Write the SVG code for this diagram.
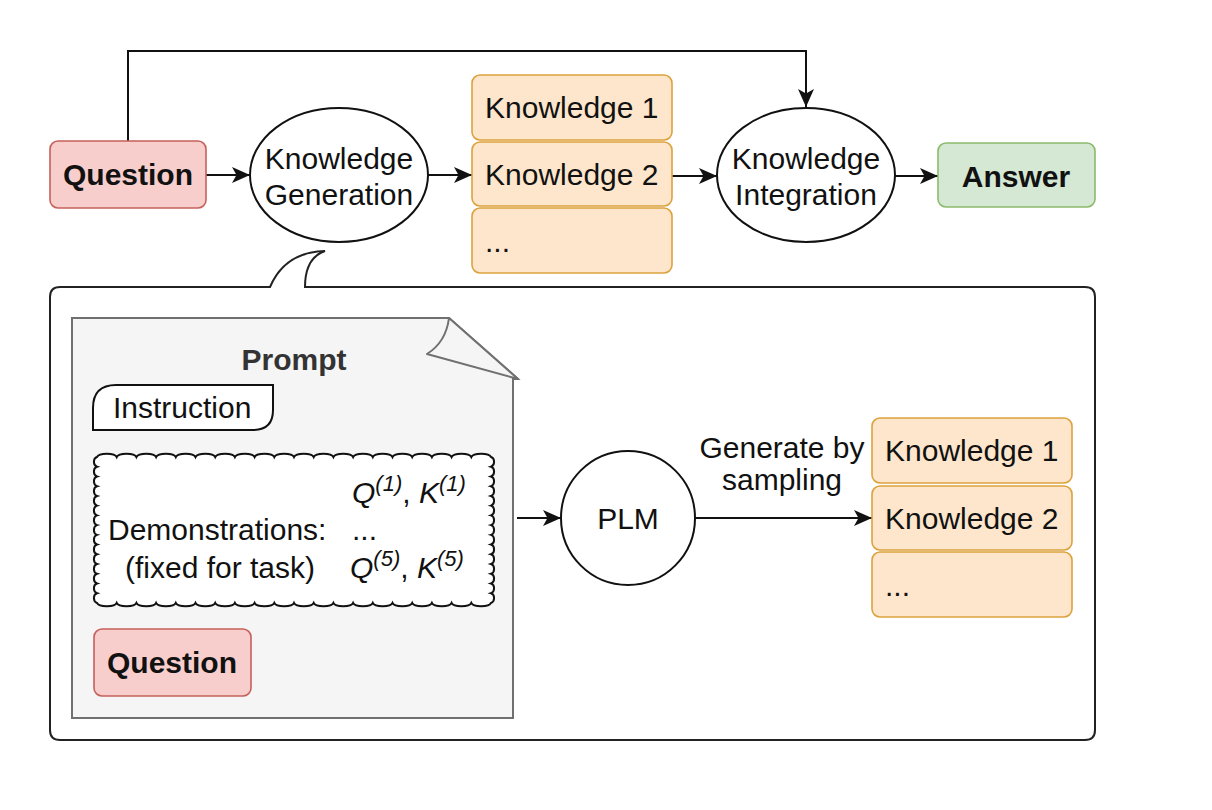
<svg xmlns="http://www.w3.org/2000/svg" width="1212" height="810" viewBox="0 0 1212 810">
<style>
text{font-family:"Liberation Sans",Arial,Helvetica,sans-serif;font-size:30px;fill:#111}
.b{font-weight:bold}
.c{text-anchor:middle}
.i{font-style:italic}
.line{fill:none;stroke:#111;stroke-width:2}
.ell{fill:#fff;stroke:#111;stroke-width:2}
.q{fill:#f8cecc;stroke:#c5605b;stroke-width:1.6}
.k{fill:#fde6cb;stroke:#dca23e;stroke-width:1.6}
.a{fill:#d5e8d4;stroke:#8abb6c;stroke-width:1.6}
</style>
<defs>
<marker id="arr" markerUnits="userSpaceOnUse" markerWidth="20" markerHeight="18" refX="18" refY="8" orient="auto">
<path d="M0,0 L18,8 L0,16 L4.5,8 Z" fill="#111"/>
</marker>
</defs>
<rect width="1212" height="810" fill="#fff"/>

<g id="callout">
<path d="M60,287 H270 Q285,252 325,251 Q305,258 305,287 H1085 Q1095,287 1095,297 V730 Q1095,740 1085,740 H60 Q50,740 50,730 V297 Q50,287 60,287 Z" fill="#fff" stroke="#222" stroke-width="2"/>
</g>

<g id="connectors">
<path class="line" d="M128,141 V51 H806 V107" marker-end="url(#arr)"/>
<path class="line" d="M206,175 H250" marker-end="url(#arr)"/>
<path class="line" d="M428,175 H472" marker-end="url(#arr)"/>
<path class="line" d="M672,176 H717" marker-end="url(#arr)"/>
<path class="line" d="M895,176 H938" marker-end="url(#arr)"/>
<path class="line" d="M517,518 H561" marker-end="url(#arr)"/>
<path class="line" d="M695,518 H872" marker-end="url(#arr)"/>
</g>

<g id="question">
<rect class="q" x="50" y="141" width="156" height="67" rx="8"/>
<text class="b c" x="128" y="185">Question</text>
</g>

<g id="knowledge-generation">
<ellipse class="ell" cx="339" cy="175" rx="89" ry="67"/>
<text class="c" x="339" y="169">Knowledge</text>
<text class="c" x="339" y="205">Generation</text>
</g>

<g id="knowledge-stack-top">
<rect class="k" x="472" y="75" width="200" height="65" rx="8"/>
<text x="485" y="118">Knowledge 1</text>
<rect class="k" x="472" y="142" width="200" height="64" rx="8"/>
<text x="485" y="185">Knowledge 2</text>
<rect class="k" x="472" y="208" width="200" height="65" rx="8"/>
<text x="485" y="252">...</text>
</g>

<g id="knowledge-integration">
<ellipse class="ell" cx="806" cy="175" rx="89" ry="67"/>
<text class="c" x="806" y="169">Knowledge</text>
<text class="c" x="806" y="205">Integration</text>
</g>

<g id="answer">
<rect class="a" x="938" y="143" width="157" height="64" rx="8"/>
<text class="b c" x="1016" y="187">Answer</text>
</g>

<g id="prompt">
<path d="M72,318 H449 L518,379 L513,379 V718 H72 Z" fill="#f5f5f5" stroke="#707070" stroke-width="2"/>
<path d="M449,318 Q446,342 427,354 L518,379 Z" fill="#f5f5f5" stroke="#707070" stroke-width="2" stroke-linejoin="round"/>
<text class="b c" x="294" y="370" style="fill:#333">Prompt</text>
</g>

<g id="instruction">
<path d="M93,430 V408 Q93,385 116,385 H273 V410 Q273,430 253,430 Z" fill="#fff" stroke="#111" stroke-width="2"/>
<text x="113" y="418">Instruction</text>
</g>

<g id="demonstrations">
<path d="M97,457 a10,4 0 0 1 19.7,0 a10,4 0 0 1 19.7,0 a10,4 0 0 1 19.7,0 a10,4 0 0 1 19.7,0 a10,4 0 0 1 19.7,0 a10,4 0 0 1 19.7,0 a10,4 0 0 1 19.7,0 a10,4 0 0 1 19.7,0 a10,4 0 0 1 19.7,0 a10,4 0 0 1 19.7,0 a10,4 0 0 1 19.7,0 a10,4 0 0 1 19.7,0 a10,4 0 0 1 19.7,0 a10,4 0 0 1 19.7,0 a10,4 0 0 1 19.7,0 a10,4 0 0 1 19.7,0 a10,4 0 0 1 19.7,0 a10,4 0 0 1 19.7,0 a10,4 0 0 1 19.7,0 a10,4 0 0 1 19.7,0
a4,5 0 0 1 0,9.73 a4,5 0 0 1 0,9.73 a4,5 0 0 1 0,9.73 a4,5 0 0 1 0,9.73 a4,5 0 0 1 0,9.73 a4,5 0 0 1 0,9.73 a4,5 0 0 1 0,9.73 a4,5 0 0 1 0,9.73 a4,5 0 0 1 0,9.73 a4,5 0 0 1 0,9.73 a4,5 0 0 1 0,9.73 a4,5 0 0 1 0,9.73 a4,5 0 0 1 0,9.73 a4,5 0 0 1 0,9.73 a4,5 0 0 1 0,9.73
a10,4 0 0 1 -19.7,0 a10,4 0 0 1 -19.7,0 a10,4 0 0 1 -19.7,0 a10,4 0 0 1 -19.7,0 a10,4 0 0 1 -19.7,0 a10,4 0 0 1 -19.7,0 a10,4 0 0 1 -19.7,0 a10,4 0 0 1 -19.7,0 a10,4 0 0 1 -19.7,0 a10,4 0 0 1 -19.7,0 a10,4 0 0 1 -19.7,0 a10,4 0 0 1 -19.7,0 a10,4 0 0 1 -19.7,0 a10,4 0 0 1 -19.7,0 a10,4 0 0 1 -19.7,0 a10,4 0 0 1 -19.7,0 a10,4 0 0 1 -19.7,0 a10,4 0 0 1 -19.7,0 a10,4 0 0 1 -19.7,0 a10,4 0 0 1 -19.7,0
a4,5 0 0 1 0,-9.73 a4,5 0 0 1 0,-9.73 a4,5 0 0 1 0,-9.73 a4,5 0 0 1 0,-9.73 a4,5 0 0 1 0,-9.73 a4,5 0 0 1 0,-9.73 a4,5 0 0 1 0,-9.73 a4,5 0 0 1 0,-9.73 a4,5 0 0 1 0,-9.73 a4,5 0 0 1 0,-9.73 a4,5 0 0 1 0,-9.73 a4,5 0 0 1 0,-9.73 a4,5 0 0 1 0,-9.73 a4,5 0 0 1 0,-9.73 a4,5 0 0 1 0,-9.73 Z" fill="#fff" stroke="#111" stroke-width="2"/>
<text x="352" y="503"><tspan class="i">Q</tspan><tspan class="i" dy="-12" style="font-size:22px">(1)</tspan><tspan dy="12">, </tspan><tspan class="i">K</tspan><tspan class="i" dy="-12" style="font-size:22px">(1)</tspan></text>
<text x="108" y="540">Demonstrations:</text>
<text x="352" y="540">...</text>
<text x="125" y="578">(fixed for task)</text>
<text x="350" y="578"><tspan class="i">Q</tspan><tspan class="i" dy="-12" style="font-size:22px">(5)</tspan><tspan dy="12">, </tspan><tspan class="i">K</tspan><tspan class="i" dy="-12" style="font-size:22px">(5)</tspan></text>
</g>

<g id="question-inner">
<rect class="q" x="94" y="629" width="157" height="67" rx="8"/>
<text class="b c" x="172" y="673">Question</text>
</g>

<g id="plm">
<circle class="ell" cx="628" cy="518" r="67"/>
<text class="c" x="628" y="529">PLM</text>
</g>

<g id="edge-label">
<text class="c" x="782" y="458">Generate by</text>
<text class="c" x="782" y="490">sampling</text>
</g>

<g id="knowledge-stack-bottom">
<rect class="k" x="872" y="418" width="200" height="65" rx="8"/>
<text x="885" y="461">Knowledge 1</text>
<rect class="k" x="872" y="486" width="200" height="64" rx="8"/>
<text x="885" y="529">Knowledge 2</text>
<rect class="k" x="872" y="552" width="200" height="65" rx="8"/>
<text x="885" y="596">...</text>
</g>
</svg>
